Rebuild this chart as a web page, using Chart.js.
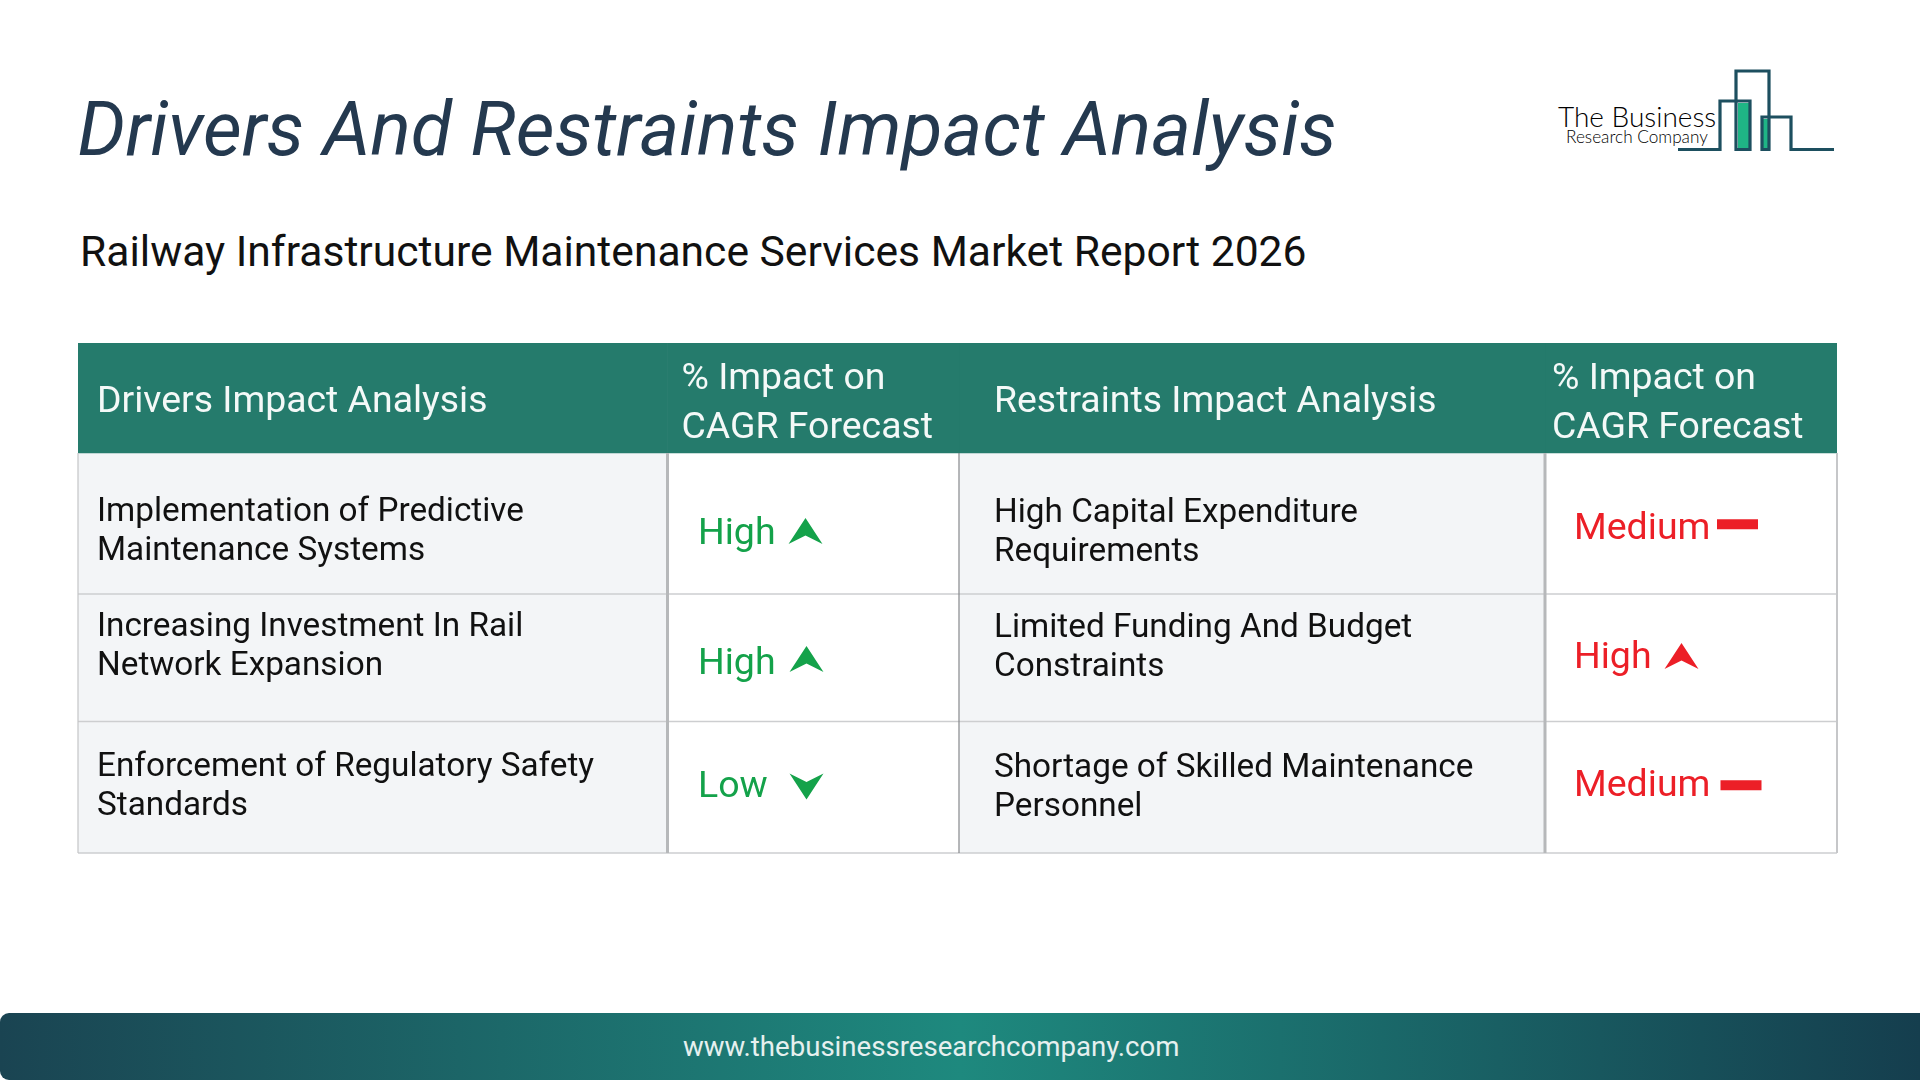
<!DOCTYPE html>
<html>
<head>
<meta charset="utf-8">
<title>Drivers And Restraints Impact Analysis</title>
<script src="https://cdn.jsdelivr.net/npm/chart.js@4"></script>
<style>
  html, body { margin: 0; padding: 0; background: #fff; }
  body { width: 1920px; height: 1080px; overflow: hidden; position: relative; font-family: Roboto, sans-serif; }
  #caja { position: absolute; left: 74px; top: 339px; width: 1767px; height: 518px; }
  .txt { position: absolute; white-space: nowrap; line-height: 1; }
  #titulo { left: 77.5px; top: 92px; font-size: 75.4px; font-style: italic; color: #24394f; }
  #subtitulo { left: 80px; top: 230px; font-size: 42.6px; color: #111; }
  #pie { position: absolute; left: 0; top: 1013px; width: 1920px; height: 67px; border-radius: 9px 0 0 9px;
         background: linear-gradient(90deg, #1a4452 0%, #1e897e 50%, #153e4e 100%); }
  #web { left: 683px; top: 1033px; font-size: 27.6px; color: #e6f0ef; }
  #logo { position: absolute; left: 0; top: 0; }
</style>
</head>
<body>
<div class="txt" id="titulo">Drivers And Restraints Impact Analysis</div>
<div class="txt" id="subtitulo">Railway Infrastructure Maintenance Services Market Report 2026</div>
<svg id="logo" width="1920" height="200">
  <rect x="1738" y="103" width="11" height="45" fill="#1fb585"/>
  <rect x="1763" y="119" width="5" height="29" fill="#1fb585"/>
  <polyline points="1678,149.5 1720,149.5 1720,101 1750,101 1750,149.5 1736,149.5 1736,71 1769,71 1769,149.5 1762,149.5 1762,117 1791,117 1791,149.5 1834,149.5"
            fill="none" stroke="#1d4f5f" stroke-width="3.2"/>
  <text x="1558" y="127" font-family="Lato" font-weight="300" font-size="28" fill="#000">The Business</text>
  <text x="1566" y="142.5" font-family="Lato" font-weight="300" font-size="17.2" fill="#000">Research Company</text>
</svg>
<div id="caja"><canvas id="tabla"></canvas></div>
<div id="pie"></div>
<div class="txt" id="web">www.thebusinessresearchcompany.com</div>
<script>
// contenido de la tabla
const encabezados = [['Drivers Impact Analysis'], ['% Impact on', 'CAGR Forecast'], ['Restraints Impact Analysis'], ['% Impact on', 'CAGR Forecast']];
const drivers = [
    ['Implementation of Predictive', 'Maintenance Systems'],
    ['Increasing Investment In Rail', 'Network Expansion'],
    ['Enforcement of Regulatory Safety', 'Standards']
];
const impactoDrivers = ['High', 'High', 'Low'];
const flechasDrivers = ['up', 'up', 'down'];
const restraints = [
    ['High Capital Expenditure', 'Requirements'],
    ['Limited Funding And Budget', 'Constraints'],
    ['Shortage of Skilled Maintenance', 'Personnel']
];
const impactoRestraints = ['Medium', 'High', 'Medium'];
const flechasRestraints = ['dash', 'up', 'dash'];

// medidas de la tabla, en pixeles
const anchos = [589.5, 291.5, 586, 292];
const altos = [110, 141, 127.5, 131.5];
const sumar = arr => arr.reduce((a, b) => a + b, 0);

// cada celda es un tramo de una barra horizontal apilada
const celdas = [];
altos.forEach((alto, fila) => {
    anchos.forEach((ancho, col) => {
        celdas.push({
            data: [{ x: ancho, y: sumar(altos.slice(0, fila)) + alto / 2 }],
            barThickness: alto,
            backgroundColor: fila === 0 ? '#257b6c' : (col % 2 === 0 ? '#f3f5f7' : '#ffffff'),
            borderWidth: 0
        });
    });
});

const verde = '#14a24a';
const rojo = '#ec1f27';

// dibuja una flecha o guion; cx, cy es el centro de la base
function icono(ctx, tipo, cx, cy, color) {
    ctx.fillStyle = color;
    ctx.beginPath();
    if (tipo === 'dash') {
        ctx.rect(cx - 20.5, cy - 5, 41, 10);
    } else {
        const s = tipo === 'up' ? 1 : -1;
        ctx.moveTo(cx, cy - 26 * s);
        ctx.lineTo(cx + 17, cy);
        ctx.lineTo(cx, cy - 8.5 * s);
        ctx.lineTo(cx - 17, cy);
        ctx.closePath();
    }
    ctx.fill();
}

const textosTabla = {
    id: 'textosTabla',
    afterDatasetsDraw(chart) {
        const { ctx, scales: { x, y } } = chart;
        const bordeX = i => x.getPixelForValue(sumar(anchos.slice(0, i)));
        const bordeY = i => y.getPixelForValue(sumar(altos.slice(0, i)));

        ctx.save();
        // lineas horizontales
        ctx.strokeStyle = '#cdced0';
        ctx.lineWidth = 1.6;
        [2, 3, 4].forEach(i => {
            ctx.beginPath();
            ctx.moveTo(bordeX(0), bordeY(i));
            ctx.lineTo(bordeX(4), bordeY(i));
            ctx.stroke();
        });
        // lineas verticales
        [[0, 1.2, '#c4c5c7'], [1, 3, '#b6b8ba'], [2, 1.2, '#85888b'], [3, 3, '#b6b8ba'], [4, 2, '#c6c7c9']].forEach(([i, w, c]) => {
            ctx.strokeStyle = c;
            ctx.lineWidth = w;
            ctx.beginPath();
            ctx.moveTo(bordeX(i), bordeY(1));
            ctx.lineTo(bordeX(i), bordeY(4));
            ctx.stroke();
        });

        ctx.textAlign = 'left';
        ctx.textBaseline = 'alphabetic';

        // encabezado
        const sangriaEnc = [19, 14, 35, 7];
        ctx.fillStyle = '#f4f9f8';
        ctx.font = '37.4px Roboto';
        encabezados.forEach((lineas, col) => {
            const px = bordeX(col) + sangriaEnc[col];
            if (lineas.length === 1) {
                ctx.fillText(lineas[0], px, bordeY(0) + 69);
            } else {
                ctx.fillText(lineas[0], px, bordeY(0) + 45.8);
                ctx.fillText(lineas[1], px, bordeY(0) + 94.6);
            }
        });

        // textos de las filas
        const baseIzq = [68.2, 42.2, 54.4];
        const baseDer = [69.2, 43.2, 55.7];
        ctx.fillStyle = '#111111';
        ctx.font = '33.3px Roboto';
        drivers.forEach((lineas, f) => {
            lineas.forEach((t, l) => ctx.fillText(t, bordeX(0) + 19, bordeY(f + 1) + baseIzq[f] + l * 39.2));
        });
        restraints.forEach((lineas, f) => {
            lineas.forEach((t, l) => ctx.fillText(t, bordeX(2) + 35, bordeY(f + 1) + baseDer[f] + l * 39.2));
        });

        // impacto
        const baseImpIzq = [90.5, 79.5, 75.2];
        const baseImpDer = [85.5, 73.6, 74.4];
        const iconoIzq = [[138, 91], [139, 78], [139, 52]];
        const iconoDer = [[192.5, 71.3], [136.5, 75], [196, 63.8]];
        ctx.font = '37.5px Roboto';
        impactoDrivers.forEach((t, f) => {
            ctx.fillStyle = verde;
            ctx.fillText(t, bordeX(1) + 30.5, bordeY(f + 1) + baseImpIzq[f]);
            icono(ctx, flechasDrivers[f], bordeX(1) + iconoIzq[f][0], bordeY(f + 1) + iconoIzq[f][1], verde);
        });
        impactoRestraints.forEach((t, f) => {
            ctx.fillStyle = rojo;
            ctx.fillText(t, bordeX(3) + 29, bordeY(f + 1) + baseImpDer[f]);
            icono(ctx, flechasRestraints[f], bordeX(3) + iconoDer[f][0], bordeY(f + 1) + iconoDer[f][1], rojo);
        });
        ctx.restore();
    }
};

Chart.defaults.font.family = 'Roboto';

new Chart(document.getElementById('tabla').getContext('2d'), {
    type: 'bar',
    data: { datasets: celdas },
    plugins: [textosTabla],
    options: {
        indexAxis: 'y',
        responsive: true,
        maintainAspectRatio: false,
        animation: false,
        layout: { padding: 4 },
        plugins: { legend: { display: false }, tooltip: { enabled: false } },
        scales: {
            x: { type: 'linear', stacked: true, display: false, min: 0, max: sumar(anchos) },
            // offset en false: el eje indice de barras lo trae en true
            y: { type: 'linear', stacked: true, offset: false, display: false, reverse: true, min: 0, max: sumar(altos) }
        }
    }
});
</script>
</body>
</html>
